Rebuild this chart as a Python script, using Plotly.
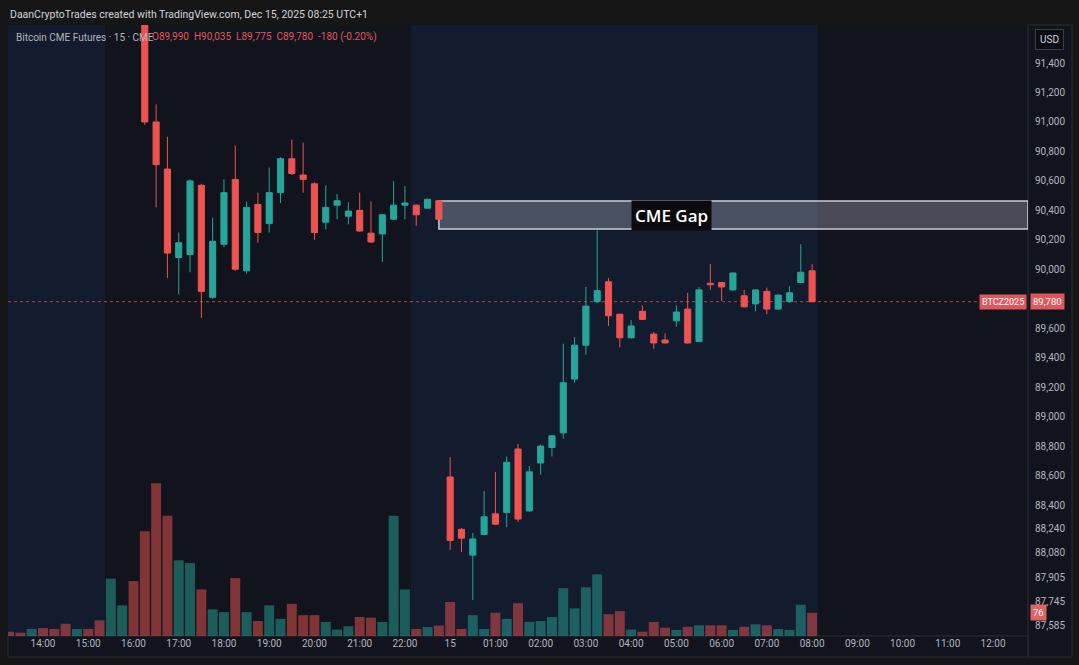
import plotly.graph_objects as go

# 15m bars: Fri 13:15 -> 22:45, then Mon 00:00 -> 08:00 (UTC+1)
bar_times = ([f"12-12 {h:02d}:{m:02d}" for h in range(13, 23) for m in (0, 15, 30, 45)][1:]
             + [f"12-15 {h:02d}:{m:02d}" for h in range(0, 9) for m in (0, 15, 30, 45)][:33])

opens = [92450, 92400, 92370, 92420, 92350, 92310, 92200, 92260, 92220, 92120, 92350, 92380,
         92000, 91000, 90680, 90080, 90100, 90570, 89810, 90170, 90610, 89990, 90440, 90310, 90520,
         90750, 90640, 90580, 90320, 90435, 90360, 90400, 90245, 90240, 90340, 90435, 90435, 90415, 90465,
         88590, 88235, 88060, 88200, 88340, 88350, 88780, 88360, 88685, 88790,
         88890, 89255, 89485, 89780, 89915, 89695, 89535, 89715, 89560, 89520, 89650, 89730, 89510,
         89905, 89910, 89860, 89820, 89765, 89850, 89730, 89780, 89910, 89990]
highs = [92480, 92430, 92440, 92440, 92380, 92330, 92280, 92280, 92240, 92400, 92450, 92400,
         92050, 91120, 90900, 90250, 90610, 90580, 90350, 90610, 90840, 90460, 90520, 90690, 90760,
         90880, 90860, 90590, 90570, 90510, 90455, 90520, 90460, 90375, 90600, 90565, 90440, 90480, 90470,
         88725, 88245, 88210, 88495, 88625, 88730, 88815, 88665, 88810, 88875,
         89495, 89540, 89880, 90265, 89940, 89700, 89655, 89755, 89575, 89565, 89755, 89840, 89880,
         90035, 89915, 89980, 89860, 89865, 89875, 89830, 89885, 90170, 90035]
lows = [92380, 92350, 92350, 92330, 92290, 92180, 92170, 92200, 92100, 92080, 92250, 91950,
        90980, 90420, 89940, 89830, 89980, 89670, 89800, 90150, 89990, 89970, 90180, 90250, 90450,
        90640, 90520, 90200, 90270, 90340, 90305, 90255, 90180, 90050, 90335, 90340, 90295, 90410, 90340,
        88095, 88080, 87755, 88195, 88265, 88250, 88285, 88355, 88605, 88730,
        88850, 89230, 89420, 89770, 89615, 89470, 89530, 89660, 89460, 89495, 89610, 89495, 89510,
        89860, 89785, 89855, 89740, 89715, 89695, 89725, 89775, 89905, 89775]
closes = [92400, 92370, 92420, 92350, 92310, 92200, 92260, 92220, 92120, 92350, 92380, 92000,
          91000, 90710, 90110, 90180, 90600, 89850, 90190, 90520, 90000, 90420, 90250, 90520, 90750,
          90650, 90610, 90250, 90420, 90465, 90395, 90260, 90185, 90370, 90435, 90450, 90370, 90475, 90340,
          88160, 88175, 88170, 88320, 88270, 88690, 88305, 88625, 88800, 88870,
          89230, 89485, 89750, 89855, 89685, 89535, 89615, 89660, 89500, 89500, 89710, 89500, 89860,
          89895, 89880, 89975, 89745, 89860, 89730, 89825, 89840, 89980, 89780]
volumes = [14, 11, 23, 26, 23, 40, 23, 23, 51, 187, 100, 179,
           342, 498, 392, 247, 238, 152, 87, 78, 189, 78, 49, 100, 56,
           105, 68, 68, 46, 21, 32, 62, 60, 46, 392, 152, 23, 29, 34,
           111, 23, 68, 23, 76, 56, 107, 46, 49, 62,
           156, 90, 159, 201, 71, 81, 21, 14, 46, 27, 20, 30, 35, 35, 35, 20, 30, 38, 35, 23, 20, 102, 76]

hour_labels = ["14:00", "15:00", "16:00", "17:00", "18:00", "19:00", "20:00", "21:00", "22:00", "15",
               "01:00", "02:00", "03:00", "04:00", "05:00", "06:00", "07:00", "08:00",
               "09:00", "10:00", "11:00", "12:00"]
price_ticks = [91400, 91200, 91000, 90800, 90600, 90400, 90200, 90000, 89600, 89400, 89200, 89000,
               88800, 88600, 88400, 88240, 88080, 87905, 87745, 87585]

gap_low, gap_high = 90273, 90463
last_price = closes[-1]
last_volume = volumes[-1]

UP = '#26a69a'
DOWN = '#ef5350'
BG_DARK = '#11141c'
BG_SESSION = '#131b2e'
TXT = '#b2b5be'

x = list(range(len(bar_times)))
vol_colors = ['rgba(38,166,154,0.5)' if c >= o else 'rgba(239,83,80,0.5)' for o, c in zip(opens, closes)]

fig = go.Figure()
fig.add_trace(go.Bar(x=x, y=volumes, yaxis='y2', width=0.88, marker_color=vol_colors,
                     marker_line_width=0, hoverinfo='skip', showlegend=False))
fig.add_trace(go.Candlestick(
    x=x, open=opens, high=highs, low=lows, close=closes, whiskerwidth=0,
    increasing=dict(line=dict(color=UP, width=1), fillcolor=UP),
    decreasing=dict(line=dict(color=DOWN, width=1), fillcolor=DOWN),
    showlegend=False, text=bar_times, hoverinfo='x+y+text'))

x_range = [-0.095, 90.09]
shapes = [
    # session shading
    dict(type='rect', xref='x', yref='paper', x0=x_range[0], x1=8.5, y0=0, y1=1,
         fillcolor=BG_SESSION, line_width=0, layer='below'),
    dict(type='rect', xref='x', yref='paper', x0=35.5, x1=71.5, y0=0, y1=1,
         fillcolor=BG_SESSION, line_width=0, layer='below'),
    # axis strips
    dict(type='rect', xref='paper', yref='paper', x0=1.0, x1=1.0431, y0=-0.0344, y1=1,
         fillcolor=BG_DARK, line=dict(color='#2a2e39', width=1), layer='below'),
    dict(type='rect', xref='paper', yref='paper', x0=0, x1=1.0, y0=-0.0344, y1=0,
         fillcolor=BG_DARK, line=dict(color='#2a2e39', width=1), layer='below'),
    # CME gap box
    dict(type='rect', xref='x', yref='y', x0=38, x1=x_range[1], y0=gap_low, y1=gap_high,
         fillcolor='rgba(215,220,232,0.28)', line=dict(color='#c9ccd3', width=1.5), layer='below'),
    # last price line
    dict(type='line', xref='paper', yref='y', x0=0, x1=1, y0=last_price, y1=last_price,
         line=dict(color='rgba(239,83,80,0.75)', width=1, dash='dot'), layer='below'),
]

annotations = [
    dict(text="DaanCryptoTrades created with TradingView.com, Dec 15, 2025 08:25 UTC+1",
         xref='paper', yref='paper', x=0, y=1.018, xanchor='left', yanchor='middle',
         showarrow=False, font=dict(size=10.5, color='#d1d4dc')),
    dict(text="Bitcoin CME Futures · 15 · CME", xref='paper', yref='paper', x=0.006, y=0.980,
         xanchor='left', yanchor='middle', showarrow=False, font=dict(size=10, color=TXT)),
    dict(text="O89,990  H90,035  L89,775  C89,780  -180 (-0.20%)", xref='paper', yref='paper',
         x=0.139, y=0.980, xanchor='left', yanchor='middle', showarrow=False,
         font=dict(size=10, color='#e0575b')),
    dict(text="CME Gap", xref='x', yref='y', x=58.6, y=(gap_low + gap_high) / 2,
         xanchor='center', yanchor='middle', showarrow=False, bgcolor='#0a0a0c', borderpad=3,
         font=dict(size=17, color='#ffffff', family='Open Sans', weight=600)),
    dict(text="USD", xref='paper', yref='paper', x=1.0206, y=0.977, xanchor='center',
         yanchor='middle', showarrow=False, bgcolor='#0b0d12', bordercolor='#3a3e48',
         borderwidth=1, borderpad=4, font=dict(size=10, color='#d1d4dc')),
    dict(text="BTCZ2025", xref='paper', yref='y', x=0.9995, y=last_price, xanchor='right',
         showarrow=False, bgcolor='#e0575b', borderpad=2, font=dict(size=9, color='#ffffff')),
    dict(text=f"{last_price:,}", xref='paper', yref='y', x=1.002, y=last_price, xanchor='left',
         showarrow=False, bgcolor='#e0575b', borderpad=2, font=dict(size=9.5, color='#ffffff')),
    dict(text=str(last_volume), xref='paper', yref='y2', x=1.002, y=last_volume, xanchor='left',
         showarrow=False, bgcolor='#e06262', borderpad=2, font=dict(size=9.5, color='#ffffff')),
]

fig.update_layout(
    width=1079, height=665,
    margin=dict(l=8, r=51, t=25, b=29),
    paper_bgcolor='#161616', plot_bgcolor=BG_DARK,
    font=dict(family='Roboto, sans-serif', color=TXT, size=10),
    boxgap=0.23,
    xaxis=dict(range=x_range, rangeslider_visible=False, showgrid=False, zeroline=False,
               tickvals=[3 + 4 * i for i in range(len(hour_labels))], ticktext=hour_labels,
               tickfont=dict(size=10, color=TXT), ticks='', showline=False),
    yaxis=dict(range=[87511, 91658], side='right', showgrid=False, zeroline=False,
               tickvals=price_ticks, ticktext=[f"{v:,}" for v in price_ticks],
               tickfont=dict(size=10, color=TXT), ticks='', ticklabelstandoff=6),
    yaxis2=dict(range=[0, 1993], overlaying='y', visible=False),
    shapes=shapes, annotations=annotations,
    hovermode='x', showlegend=False,
)

fig.write_html("out.html", config={'displayModeBar': False},
               post_script="document.body.style.margin='0';document.body.style.overflow='hidden';")
